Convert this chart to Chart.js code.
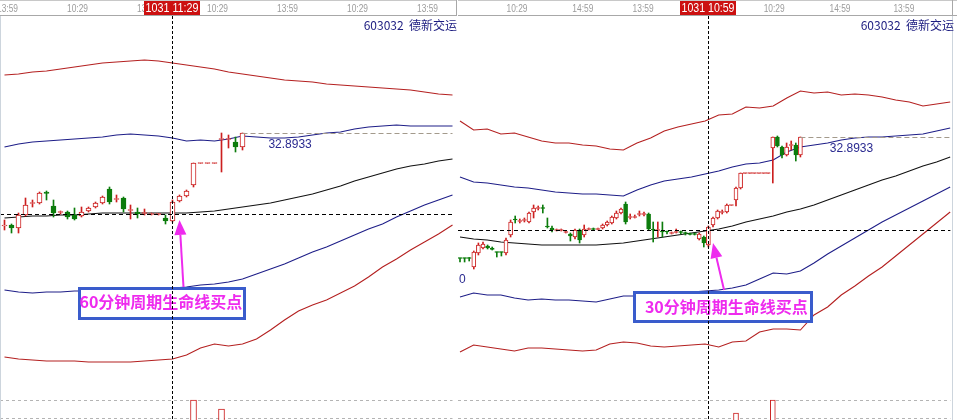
<!DOCTYPE html>
<html>
<head>
<meta charset="utf-8">
<title>603032 德新交运</title>
<script src="https://cdn.jsdelivr.net/npm/chart.js@4.4.1/dist/chart.umd.min.js"></script>
<style>
  html, body { margin: 0; padding: 0; background: #fff; }
  #wrap { position: relative; width: 957px; height: 420px; overflow: hidden; }
  #c60 { position: absolute; left: 0; top: 0; }
  #c30 { position: absolute; left: 458px; top: 0; }
</style>
</head>
<body>
<div id="wrap">
  <canvas id="c60" width="457" height="420"></canvas>
  <canvas id="c30" width="499" height="420"></canvas>
</div>
<script>
// ---------- 60分钟 K线 (左图) ----------
const k60Open  = [31.03, 31.05, 30.99, 31.25, 31.48, 31.49, 31.71, 31.43, 31.30, 31.31, 31.25, 31.23, 31.33, 31.41, 31.49, 31.77, 31.56, 31.59, 31.34, 31.31, 31.28, 31.26, 31.26, 31.19, 31.13, 31.53, 31.63, 31.85, 32.28, 32.28, 32.28, 32.76, 32.76, 32.71, 32.61];
const k60Close = [31.04, 30.99, 31.25, 31.45, 31.49, 31.69, 31.68, 31.29, 31.31, 31.21, 31.17, 31.31, 31.39, 31.49, 31.61, 31.51, 31.57, 31.37, 31.35, 31.27, 31.29, 31.27, 31.27, 31.13, 31.51, 31.63, 31.73, 32.29, 32.29, 32.29, 32.29, 32.77, 32.77, 32.61, 32.89];
const k60High  = [31.15, 31.07, 31.29, 31.59, 31.55, 31.71, 31.73, 31.55, 31.33, 31.33, 31.39, 31.41, 31.41, 31.51, 31.63, 31.81, 31.65, 31.61, 31.45, 31.39, 31.37, 31.29, 31.28, 31.25, 31.55, 31.65, 31.75, 32.29, 32.29, 32.29, 32.29, 32.89, 32.85, 32.81, 32.89];
const k60Low   = [30.95, 30.89, 30.89, 31.23, 31.41, 31.47, 31.55, 31.21, 31.27, 31.17, 31.15, 31.21, 31.31, 31.39, 31.47, 31.47, 31.51, 31.31, 31.17, 31.19, 31.25, 31.25, 31.25, 31.07, 31.11, 31.51, 31.61, 31.81, 32.28, 32.28, 32.28, 32.11, 32.59, 32.51, 32.55];

// 通道线, one value every 2 bars
const b60RedUp   = [34.05, 34.07, 34.11, 34.13, 34.17, 34.21, 34.25, 34.29, 34.31, 34.33, 34.35, 34.33, 34.29, 34.25, 34.21, 34.17, 34.11, 34.07, 34.03, 33.99, 33.95, 33.93, 33.91, 33.87, 33.85, 33.83, 33.81, 33.79, 33.77, 33.75, 33.71, 33.67, 33.65];
const b60BlueUp  = [32.61, 32.67, 32.71, 32.73, 32.75, 32.77, 32.79, 32.81, 32.85, 32.87, 32.85, 32.83, 32.79, 32.73, 32.75, 32.73, 32.77, 32.83, 32.81, 32.79, 32.79, 32.81, 32.85, 32.89, 32.91, 32.97, 33.01, 33.03, 33.05, 33.03, 33.03, 33.03, 33.03];
const b60Mid     = [31.19, 31.21, 31.23, 31.23, 31.25, 31.25, 31.27, 31.29, 31.29, 31.29, 31.29, 31.29, 31.29, 31.29, 31.31, 31.33, 31.37, 31.41, 31.45, 31.49, 31.55, 31.61, 31.67, 31.75, 31.83, 31.93, 32.01, 32.09, 32.17, 32.23, 32.27, 32.33, 32.37];
const b60BlueLow = [29.75, 29.71, 29.69, 29.71, 29.71, 29.73, 29.73, 29.73, 29.75, 29.75, 29.75, 29.77, 29.79, 29.81, 29.85, 29.87, 29.91, 29.97, 30.07, 30.17, 30.27, 30.39, 30.51, 30.61, 30.73, 30.85, 30.97, 31.07, 31.21, 31.33, 31.45, 31.55, 31.65];
const b60RedLow  = [28.41, 28.37, 28.35, 28.33, 28.33, 28.33, 28.31, 28.31, 28.31, 28.31, 28.33, 28.35, 28.37, 28.45, 28.59, 28.67, 28.63, 28.67, 28.77, 28.95, 29.15, 29.33, 29.45, 29.55, 29.69, 29.83, 30.01, 30.21, 30.37, 30.55, 30.71, 30.87, 31.05];
const b60X = Array.from({ length: b60Mid.length }, (_, k) => 2 * k);

const v60Bars = [27, 31];
const v60Vol  = [50000, 45500];

const t60Pos  = [0.43, 10.43, 20.43, 30.43, 40.43, 50.43, 60.43];
const t60Text = ['13:59', '10:29', '13:59', '10:29', '13:59', '10:29', '13:59'];

// ---------- 30分钟 K线 (右图) ----------
const k30Open  = [30.47, 30.47, 30.47, 30.29, 30.57, 30.67, 30.71, 30.67, 30.59, 30.59, 30.57, 30.93, 31.24, 31.20, 31.22, 31.19, 31.39, 31.46, 31.47, 31.11, 31.07, 31.02, 31.02, 30.98, 30.95, 30.89, 31.03, 30.93, 31.04, 31.05, 31.04, 31.07, 31.13, 31.17, 31.27, 31.37, 31.55, 31.28, 31.28, 31.34, 31.34, 31.35, 31.04, 31.02, 31.00, 31.00, 30.96, 30.98, 30.99, 30.97, 30.95, 30.95, 30.85, 30.89, 30.73, 31.13, 31.27, 31.38, 31.39, 31.52, 31.63, 31.87, 32.16, 32.16, 32.16, 32.16, 32.16, 32.16, 32.67, 32.89, 32.69, 32.53, 32.72, 32.73, 32.53];
const k30Close = [30.46, 30.46, 30.46, 30.59, 30.73, 30.75, 30.67, 30.64, 30.58, 30.58, 30.83, 31.19, 31.23, 31.21, 31.23, 31.37, 31.47, 31.47, 31.46, 31.09, 31.03, 31.03, 31.03, 30.99, 30.91, 31.03, 30.83, 31.05, 31.05, 31.04, 31.05, 31.13, 31.19, 31.29, 31.37, 31.45, 31.19, 31.29, 31.29, 31.35, 31.35, 31.05, 31.03, 31.03, 30.99, 30.99, 30.97, 30.99, 30.98, 30.96, 30.94, 30.94, 30.95, 30.77, 31.09, 31.27, 31.41, 31.39, 31.53, 31.53, 31.87, 32.17, 32.17, 32.17, 32.17, 32.17, 32.17, 32.17, 32.89, 32.71, 32.53, 32.69, 32.73, 32.53, 32.89];
const k30High  = [30.47, 30.47, 30.48, 30.61, 30.77, 30.79, 30.73, 30.69, 30.59, 30.59, 30.87, 31.23, 31.31, 31.25, 31.27, 31.39, 31.53, 31.51, 31.53, 31.27, 31.11, 31.05, 31.05, 31.01, 30.97, 31.05, 31.05, 31.13, 31.07, 31.07, 31.07, 31.15, 31.21, 31.31, 31.41, 31.47, 31.59, 31.35, 31.33, 31.41, 31.39, 31.37, 31.19, 31.19, 31.19, 31.01, 30.99, 31.05, 31.01, 30.99, 30.97, 30.97, 30.97, 30.91, 31.11, 31.29, 31.43, 31.43, 31.55, 31.53, 31.89, 32.17, 32.17, 32.17, 32.17, 32.17, 32.17, 32.17, 32.89, 32.91, 32.71, 32.77, 32.81, 32.77, 32.89];
const k30Low   = [30.39, 30.39, 30.41, 30.25, 30.53, 30.65, 30.65, 30.63, 30.49, 30.51, 30.53, 30.89, 31.17, 31.17, 31.19, 31.17, 31.27, 31.43, 31.37, 31.07, 30.99, 31.01, 31.01, 30.97, 30.81, 30.85, 30.77, 30.89, 31.03, 31.03, 31.03, 31.05, 31.11, 31.15, 31.25, 31.35, 31.15, 31.25, 31.27, 31.31, 31.31, 31.03, 30.79, 30.89, 30.89, 30.95, 30.95, 30.97, 30.95, 30.93, 30.93, 30.93, 30.83, 30.69, 30.69, 31.09, 31.25, 31.35, 31.37, 31.52, 31.51, 31.85, 32.16, 32.16, 32.16, 32.16, 32.16, 32.16, 31.97, 32.69, 32.47, 32.51, 32.63, 32.41, 32.49];

const b30RedUp   = [33.21, 33.03, 33.05, 32.95, 32.97, 32.89, 32.81, 32.77, 32.77, 32.73, 32.71, 32.65, 32.63, 32.77, 32.87, 33.01, 33.09, 33.15, 33.21, 33.33, 33.35, 33.49, 33.47, 33.51, 33.67, 33.81, 33.77, 33.79, 33.73, 33.75, 33.73, 33.69, 33.63, 33.59, 33.51, 33.55, 33.59];
const b30BlueUp  = [32.09, 31.99, 31.97, 31.93, 31.89, 31.87, 31.83, 31.79, 31.77, 31.75, 31.75, 31.73, 31.71, 31.83, 31.93, 32.01, 32.05, 32.09, 32.15, 32.21, 32.29, 32.35, 32.37, 32.43, 32.59, 32.69, 32.73, 32.77, 32.83, 32.87, 32.89, 32.89, 32.91, 32.93, 32.95, 33.01, 33.07];
const b30Mid     = [30.89, 30.85, 30.83, 30.79, 30.77, 30.75, 30.73, 30.73, 30.73, 30.73, 30.73, 30.75, 30.77, 30.81, 30.85, 30.89, 30.93, 30.97, 31.01, 31.05, 31.11, 31.19, 31.25, 31.31, 31.39, 31.45, 31.53, 31.63, 31.73, 31.83, 31.93, 32.03, 32.11, 32.21, 32.31, 32.39, 32.49];
const b30BlueLow = [29.69, 29.77, 29.73, 29.73, 29.67, 29.63, 29.65, 29.63, 29.63, 29.61, 29.59, 29.65, 29.71, 29.71, 29.71, 29.75, 29.77, 29.79, 29.81, 29.83, 29.87, 29.93, 30.05, 30.17, 30.15, 30.21, 30.37, 30.55, 30.71, 30.87, 31.03, 31.19, 31.33, 31.47, 31.61, 31.75, 31.89];
const b30RedLow  = [28.59, 28.73, 28.69, 28.65, 28.61, 28.67, 28.67, 28.65, 28.63, 28.61, 28.63, 28.75, 28.79, 28.77, 28.71, 28.69, 28.71, 28.73, 28.75, 28.69, 28.79, 28.81, 28.99, 29.05, 29.05, 29.03, 29.33, 29.49, 29.73, 29.91, 30.11, 30.29, 30.51, 30.73, 30.95, 31.17, 31.39];
const b30X = Array.from({ length: b30Mid.length }, (_, k) => 2.96 * k);

const v30Bars = [60, 68];
const v30Vol  = [43500, 50000];

const t30Pos  = [12.4, 26.7, 39.8, 68.3, 82.6, 96.5];
const t30Text = ['10:29', '14:59', '13:59', '10:29', '14:59', '13:59'];

const RED = '#cc1f1f', GREEN = '#0c7c0c';
const BAND_RED = '#b42020', BAND_BLUE = '#1e1e88', MAGENTA = '#ee2bee';

function line(ctx, x1, y1, x2, y2) {
  ctx.beginPath(); ctx.moveTo(x1, y1); ctx.lineTo(x2, y2); ctx.stroke();
}

// overlays: crosshair, price line, note box, arrow, header
function decor(d) {
  return {
    id: 'decor',
    beforeDatasetsDraw(chart) {
      const { ctx, chartArea: a, scales } = chart;
      ctx.save();
      ctx.strokeStyle = '#b4b4b4'; ctx.lineWidth = 1; ctx.setLineDash([3, 3]);
      d.volGrid.forEach(v => {
        const y = Math.round(scales.yv.getPixelForValue(v)) + 0.5;
        line(ctx, a.left, y, scales.x.getPixelForValue(d.edge), y);
      });
      ctx.restore();
    },
    afterDatasetsDraw(chart) {
      const { ctx, chartArea: a, scales } = chart;
      const X = v => scales.x.getPixelForValue(v), Y = v => scales.y.getPixelForValue(v);
      ctx.save();
      // last price
      ctx.strokeStyle = '#a39a8c'; ctx.lineWidth = 1; ctx.setLineDash([5, 3]);
      let y = Math.round(Y(d.last.value)) + 0.5;
      line(ctx, X(d.last.from), y, X(d.edge), y);
      ctx.setLineDash([]);
      ctx.font = '12px "Liberation Sans", Arial, sans-serif';
      ctx.fillStyle = '#2a2a90'; ctx.textBaseline = 'middle'; ctx.textAlign = 'left';
      ctx.fillText(d.last.text, X(d.last.at[0]), Y(d.last.at[1]));
      if (d.extra) ctx.fillText(d.extra.text, X(d.extra.at[0]), Y(d.extra.at[1]));
      // note box
      const [i1, p1, i2, p2] = d.note.box;
      const bx = Math.round(X(i1)), by = Math.round(Y(p1));
      const bw = Math.round(X(i2)) - bx, bh = Math.round(Y(p2)) - by;
      ctx.fillStyle = '#fff'; ctx.fillRect(bx, by, bw, bh);
      ctx.strokeStyle = '#3a5ccc'; ctx.lineWidth = 3;
      ctx.strokeRect(bx + 1.5, by + 1.5, bw - 3, bh - 3);
      ctx.font = 'bold 16px "Noto Sans CJK SC", sans-serif';
      ctx.fillStyle = MAGENTA;
      ctx.fillText(d.note.text, X(d.note.at[0]), Y(d.note.at[1]));
      // arrow
      const fx = X(d.arrow.from[0]), fy = Y(d.arrow.from[1]);
      const tx = X(d.arrow.to[0]), ty = Y(d.arrow.to[1]);
      const ang = Math.atan2(ty - fy, tx - fx), hl = 15, hw = 6;
      const hx = tx - hl * Math.cos(ang), hy = ty - hl * Math.sin(ang);
      ctx.strokeStyle = MAGENTA; ctx.lineWidth = 2;
      line(ctx, fx, fy, hx, hy);
      ctx.fillStyle = MAGENTA;
      ctx.beginPath();
      ctx.moveTo(tx, ty);
      ctx.lineTo(hx + hw * Math.sin(ang), hy - hw * Math.cos(ang));
      ctx.lineTo(hx - hw * Math.sin(ang), hy + hw * Math.cos(ang));
      ctx.closePath(); ctx.fill();
      // crosshair
      ctx.strokeStyle = '#000'; ctx.lineWidth = 1;
      ctx.setLineDash([3, 2]);
      const cx = Math.round(X(d.cross.x)) + 0.5;
      line(ctx, cx, a.top, cx, a.bottom);
      ctx.setLineDash([4, 3]);
      y = Math.round(Y(d.cross.y)) + 0.5;
      line(ctx, a.left, y, X(d.edge), y);
      ctx.restore();
    },
    afterDraw(chart) {
      const { ctx, scales, width, height } = chart;
      const X = v => scales.x.getPixelForValue(v);
      ctx.save();
      // frame
      ctx.strokeStyle = '#cdd5dd'; ctx.lineWidth = 1;
      d.frame.forEach(fx => line(ctx, fx + 0.5, 0, fx + 0.5, height));
      // header strip
      ctx.fillStyle = '#fff'; ctx.fillRect(0, 0, width, 15);
      ctx.strokeStyle = '#c8c8c8'; line(ctx, 0, 0.5, width, 0.5);
      ctx.strokeStyle = '#a8a8a8'; line(ctx, 0, 15.5, width, 15.5);
      line(ctx, d.headEdge + 0.5, 0, d.headEdge + 0.5, 16);
      ctx.font = '10px "Liberation Sans", Arial, sans-serif';
      ctx.fillStyle = '#9c9c9c'; ctx.textAlign = 'center'; ctx.textBaseline = 'middle';
      d.ticks.forEach((t, k) => ctx.fillText(d.tickText[k], X(t), 9, 21));
      // time tag at crosshair
      const cx = Math.round(X(d.cross.x));
      ctx.fillStyle = '#cc1010'; ctx.fillRect(cx - 28, 1, 56, 14);
      ctx.fillStyle = '#fff'; ctx.font = '13px "Liberation Sans", Arial, sans-serif';
      ctx.fillText(d.cross.label, cx, 8.5, 53);
      // title
      ctx.font = '12px "Noto Sans CJK SC", sans-serif';
      ctx.fillStyle = '#1c1c80'; ctx.textAlign = 'right';
      ctx.fillText(d.title, width - d.titlePad, 25);
      ctx.restore();
    }
  };
}

function buildPanel(id, c) {
  const up = c.open.map((o, i) => c.close[i] >= o);
  const bands = [
    [c.redUp, BAND_RED], [c.blueUp, BAND_BLUE], [c.mid, '#111111'],
    [c.blueLow, BAND_BLUE], [c.redLow, BAND_RED]
  ];
  const datasets = bands.map(([vals, color]) => ({
    type: 'line', order: 5, borderColor: color, borderWidth: 1.1,
    pointRadius: 0, tension: 0,
    data: vals.map((v, k) => ({ x: c.bandX[k], y: v }))
  }));
  datasets.push({
    type: 'bar', order: 3, grouped: false, barThickness: 1, borderWidth: 0,
    backgroundColor: up.map(u => u ? RED : GREEN),
    data: c.high.map((h, i) => ({ x: i, y: [c.low[i], h] }))
  });
  datasets.push({
    type: 'bar', order: 2, grouped: false, barThickness: c.bodyWidth,
    borderWidth: 1, borderSkipped: false, minBarLength: 1,
    backgroundColor: up.map(u => u ? '#ffffff' : GREEN),
    borderColor: up.map(u => u ? RED : GREEN),
    data: c.open.map((o, i) => ({ x: i, y: [o, c.close[i]] }))
  });
  datasets.push({
    type: 'bar', order: 4, grouped: false, yAxisID: 'yv', barThickness: c.bodyWidth + 1,
    borderWidth: 1, backgroundColor: '#ffffff', borderColor: RED,
    data: c.volX.map((x, k) => ({ x: x, y: c.vol[k] }))
  });

  new Chart(document.getElementById(id), {
    type: 'bar',
    data: { datasets },
    options: {
      responsive: false,
      animation: false,
      events: [],
      layout: { padding: { top: 16, left: 0, right: 0, bottom: 0 } },
      plugins: { legend: { display: false }, tooltip: { enabled: false } },
      scales: {
        x: { type: 'linear', display: false, offset: false, min: c.xMin, max: c.xMax },
        y: { type: 'linear', display: false, min: c.yMin, max: c.yMax },
        yv: { type: 'linear', display: false, min: 40000, max: 242000 }
      }
    },
    plugins: [decor(c.decor)]
  });
}

buildPanel('c60', {
  open: k60Open, close: k60Close, high: k60High, low: k60Low,
  bandX: b60X, redUp: b60RedUp, blueUp: b60BlueUp, mid: b60Mid, blueLow: b60BlueLow, redLow: b60RedLow,
  volX: v60Bars, vol: v60Vol,
  bodyWidth: 5,
  xMin: -0.642857, xMax: 64.642857, yMin: 27.15, yMax: 35.23,
  decor: {
    edge: 64, ticks: t60Pos, tickText: t60Text,
    cross: { x: 24, y: 31.27, label: '1031 11:29' },
    last: { from: 34, value: 32.8933, text: '32.8933', at: [37.7, 32.65] },
    note: { box: [10.43, 29.81, 34.43, 29.15], text: '60分钟周期生命线买点', at: [10.71, 29.51] },
    arrow: { from: [25.57, 29.81], to: [25.0, 31.15] },
    volGrid: [50000, 41000],
    frame: [0], headEdge: 456,
    title: '603032  德新交运', titlePad: 0
  }
});

buildPanel('c30', {
  open: k30Open, close: k30Close, high: k30High, low: k30Low,
  bandX: b30X, redUp: b30RedUp, blueUp: b30BlueUp, mid: b30Mid, blueLow: b30BlueLow, redLow: b30RedLow,
  volX: v30Bars, vol: v30Vol,
  bodyWidth: 4,
  xMin: -0.4348, xMax: 108.043, yMin: 27.23, yMax: 35.31,
  decor: {
    edge: 106.6, ticks: t30Pos, tickText: t30Text,
    cross: { x: 54, y: 31.03, label: '1031 10:59' },
    last: { from: 74, value: 32.8933, text: '32.8933', at: [80.4, 32.65] },
    extra: { text: '0', at: [-0.2, 30.03] },
    note: { box: [37.6, 29.81, 76.7, 29.17], text: '30分钟周期生命线买点', at: [40.2, 29.49] },
    arrow: { from: [57.4, 29.83], to: [55.0, 30.77] },
    volGrid: [50000, 41000],
    frame: [494], headEdge: 494,
    title: '603032  德新交运', titlePad: 3
  }
});
</script>
</body>
</html>
